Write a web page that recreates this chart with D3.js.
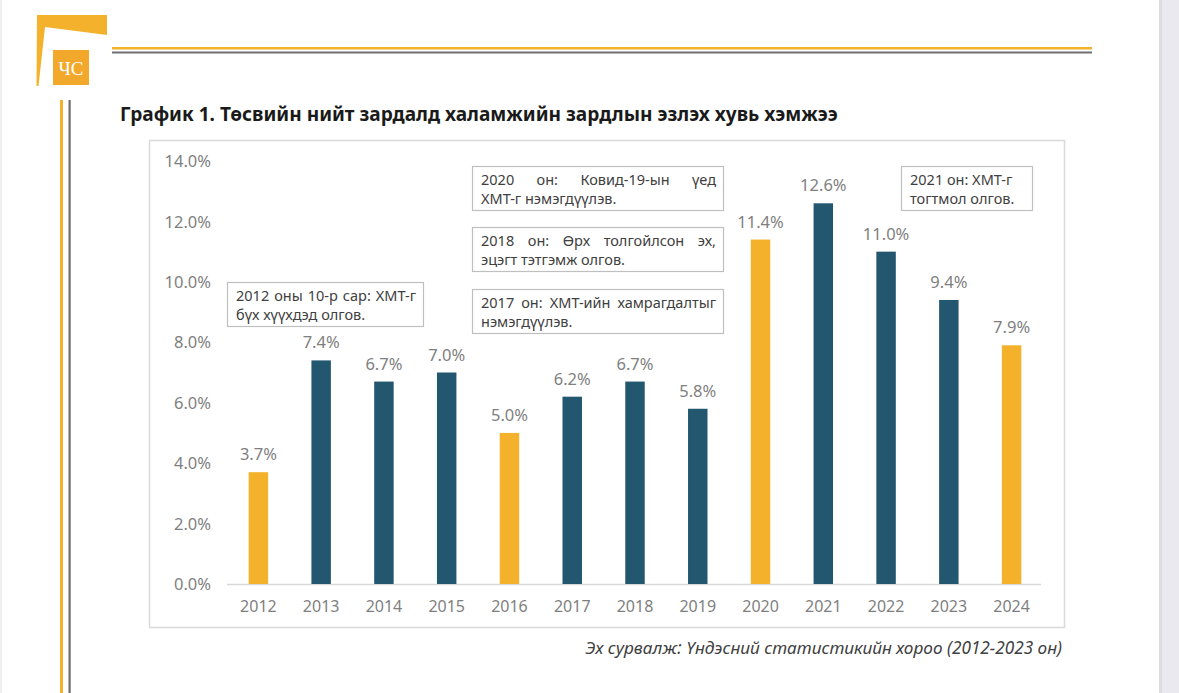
<!DOCTYPE html>
<html>
<head>
<meta charset="utf-8">
<script src="https://cdn.jsdelivr.net/npm/d3@7"></script>
<style>
  html, body { margin: 0; padding: 0; background: #ffffff; }
  svg { display: block; }
</style>
</head>
<body>
<svg id="chart" width="1179" height="693"></svg>
<script>
// ---------------- DATA ----------------
const years = ["2012","2013","2014","2015","2016","2017","2018","2019","2020","2021","2022","2023","2024"];
const shares = [3.7, 7.4, 6.7, 7.0, 5.0, 6.2, 6.7, 5.8, 11.4, 12.6, 11.0, 9.4, 7.9];
const highlightYears = ["2012","2016","2020","2024"];
const yTicks = [0, 2, 4, 6, 8, 10, 12, 14];
const titleText = "График 1. Төсвийн нийт зардалд халамжийн зардлын эзлэх хувь хэмжээ";
const sourceText = "Эх сурвалж: Үндэсний статистикийн хороо (2012-2023 он)";
const noteTexts = [
  ["2012 оны 10-р сар: ХМТ-г", "бүх хүүхдэд олгов."],
  ["2020 он: Ковид-19-ын үед", "ХМТ-г нэмэгдүүлэв."],
  ["2018 он: Өрх толгойлсон эх,", "эцэгт тэтгэмж олгов."],
  ["2017 он: ХМТ-ийн хамрагдалтыг", "нэмэгдүүлэв."],
  ["2021 он: ХМТ-г", "тогтмол олгов."]
];

// ---------------- LAYOUT ----------------
const svg = d3.select("#chart");
const FONT = "'Noto Sans', 'Open Sans', sans-serif";
const GOLD = "#F3B12C";
const BLUE = "#23566F";

// page decorations
svg.append("rect").attr("x", 1162).attr("y", 0).attr("width", 17).attr("height", 693).attr("fill", "#e9e9ef");
svg.append("rect").attr("x", 1159).attr("y", 0).attr("width", 3).attr("height", 693).attr("fill", "#dcdce2");
svg.append("rect").attr("x", 0).attr("y", 0).attr("width", 2).attr("height", 693).attr("fill", "#efefef");

// logo
svg.append("polygon")
  .attr("points", "37,15 107,15 107,35 45,27 38.5,86 36.5,86")
  .attr("fill", GOLD);
svg.append("rect").attr("x", 53).attr("y", 50).attr("width", 36).attr("height", 35).attr("fill", "#F2A82B");
svg.append("text").attr("x", 71).attr("y", 74.5).attr("text-anchor", "middle")
  .attr("font-family", "'Liberation Serif', 'DejaVu Serif', serif").attr("font-size", 19)
  .attr("fill", "#ffffff").text("ЧС");

// header lines
svg.append("rect").attr("x", 112).attr("y", 47).attr("width", 980).attr("height", 2.5).attr("fill", GOLD);
svg.append("rect").attr("x", 112).attr("y", 51.5).attr("width", 980).attr("height", 2).attr("fill", "#6e6e6e");
// left vertical lines
svg.append("rect").attr("x", 60).attr("y", 100).attr("width", 3).attr("height", 593).attr("fill", GOLD);
svg.append("rect").attr("x", 68.5).attr("y", 100).attr("width", 2.2).attr("height", 593).attr("fill", "#6e6e6e");

// title (sized to span the same width as the original)
const title = svg.append("text").attr("x", 120).attr("y", 121)
  .attr("font-family", FONT).attr("font-weight", "bold").attr("font-size", 16.5)
  .attr("fill", "#1a1a1a").text(titleText);
{
  const w = title.node().getComputedTextLength();
  const fs = Math.min(19.5, 16.5 * 718 / w);
  title.attr("font-size", fs);
}

// chart frame
svg.append("rect").attr("x", 149.5).attr("y", 140.5).attr("width", 915).attr("height", 487)
  .attr("fill", "#ffffff").attr("stroke", "#d9d9d9").attr("stroke-width", 1.5);

// scales
const x = d3.scaleBand().domain(years).range([227, 1043]).paddingInner(0.69).paddingOuter(0.345);
const y = d3.scaleLinear().domain([0, 14]).range([584, 161]);

// y axis labels
const yAxis = d3.axisLeft(y).tickValues(yTicks).tickFormat(d => d3.format(".1f")(d) + "%").tickSize(0).tickPadding(0);
const gy = svg.append("g").attr("transform", "translate(211,0)").call(yAxis);
gy.select(".domain").remove();
gy.selectAll("text").attr("font-family", FONT).attr("font-size", 16.5).attr("fill", "#7f7f7f").attr("dy", "0.34em");

// baseline
svg.append("line").attr("x1", 227).attr("x2", 1041).attr("y1", y(0) + 0.5).attr("y2", y(0) + 0.5)
  .attr("stroke", "#d9d9d9").attr("stroke-width", 1.5);

// x axis labels
const xAxis = d3.axisBottom(x).tickSize(0).tickPadding(0);
const gx = svg.append("g").attr("transform", "translate(0,598)").call(xAxis);
gx.select(".domain").remove();
gx.selectAll("text").attr("font-family", FONT).attr("font-size", 16).attr("fill", "#7f7f7f").attr("dy", "0.9em");

// bars
const data = years.map((yr, i) => ({ year: yr, v: shares[i] }));
svg.append("g").selectAll("rect").data(data).join("rect")
  .attr("x", d => x(d.year))
  .attr("width", x.bandwidth())
  .attr("y", d => y(d.v))
  .attr("height", d => y(0) - y(d.v))
  .attr("fill", d => highlightYears.includes(d.year) ? GOLD : BLUE);

// value labels
svg.append("g").selectAll("text").data(data).join("text")
  .attr("x", d => x(d.year) + x.bandwidth() / 2)
  .attr("y", d => y(d.v) - 12)
  .attr("text-anchor", "middle")
  .attr("font-family", FONT).attr("font-size", 16.5).attr("fill", "#7f7f7f")
  .text(d => d3.format(".1f")(d.v) + "%");

// annotation boxes (layout)
const boxes = [
  { x: 227, y: y(10), w: 196, justify: true },
  { x: 472, y: 165.5, w: 251, justify: true },
  { x: 472, y: 226.5, w: 251, justify: true },
  { x: 472, y: 288.5, w: 251, justify: true },
  { x: 901, y: 165.5, w: 131, justify: false }
];
const measurer = svg.append("text").attr("font-family", FONT).attr("font-size", 14.5).attr("visibility", "hidden");
function measure(s) { measurer.text(s); return measurer.node().getComputedTextLength(); }

boxes.forEach((b, i) => {
  const g = svg.append("g");
  g.append("rect").attr("x", b.x + 0.5).attr("y", Math.round(b.y) + 0.5).attr("width", b.w).attr("height", 44)
    .attr("fill", "#ffffff").attr("stroke", "#bfbfbf").attr("stroke-width", 1.2);
  const lines = noteTexts[i];
  lines.forEach((ln, li) => {
    const t = g.append("text").attr("y", Math.round(b.y) + 19 + li * 19)
      .attr("font-family", FONT).attr("font-size", 14.5).attr("fill", "#404040");
    const tx = b.x + 9;
    if (b.justify && li === 0) {
      const words = ln.split(" ");
      const widths = words.map(measure);
      const spaceW = measure("a a") - measure("aa");
      const avail = b.w - 16;
      const total = d3.sum(widths);
      let gap = (avail - total) / (words.length - 1);
      if (gap < spaceW) gap = spaceW;
      let cx = tx;
      words.forEach((w, wi) => {
        t.append("tspan").attr("x", cx).text(w);
        cx += widths[wi] + gap;
      });
    } else {
      t.attr("x", tx).text(ln);
    }
  });
});
measurer.remove();

// source
const src = svg.append("text").attr("x", 1062).attr("y", 654).attr("text-anchor", "end")
  .attr("font-family", FONT).attr("font-style", "italic").attr("font-size", 15.5)
  .attr("fill", "#404040").text(sourceText);
{
  const w = src.node().getComputedTextLength();
  src.attr("font-size", Math.min(18, 15.5 * 477 / w));
}
</script>
</body>
</html>
